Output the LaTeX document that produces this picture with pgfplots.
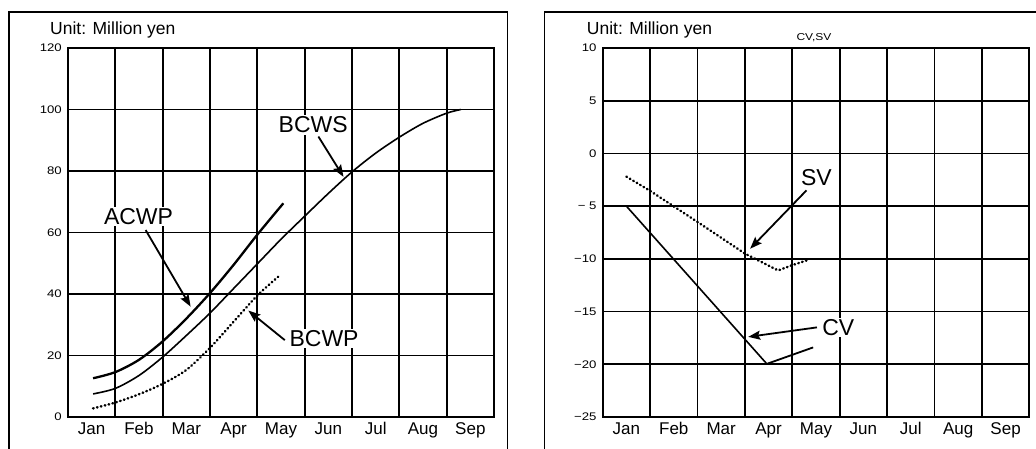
\documentclass[border=0pt]{standalone}
\usepackage{fontspec}
\setmainfont{Liberation Sans}
\newfontfamily\tickfont[FakeStretch=1.2]{Liberation Sans}
\usepackage{pgfplots}
\pgfplotsset{compat=1.18}
\usetikzlibrary{arrows.meta}

\pgfplotsset{
  panel/.style={
    scale only axis, width=426pt, height=369pt, anchor=south west,
    xmin=0, xmax=9, xtick={0,...,9}, x tick label as interval,
    xticklabels={Jan,Feb,Mar,Apr,May,Jun,Jul,Aug,Sep},
    major tick length=0pt,
    grid=major, major grid style={black, line width=1.8pt},
    axis line style={line width=2pt},
    xticklabel style={font=\fontsize{17}{17}\selectfont, inner sep=0pt, text height=12.3pt, text depth=3.6pt, anchor=north},
    xticklabel shift=5.5pt,
    yticklabel style={font=\tickfont\fontsize{11}{11}\selectfont, inner sep=0pt, anchor=east},
    yticklabel shift=6pt,
    clip=false,
  },
}
\tikzset{
  lbl/.style={fill=white, inner sep=1.5pt, font=\fontsize{23}{23}\selectfont},
  arr/.style={line width=1.8pt, -{Stealth[length=12pt,width=9pt,inset=2pt]}},
  dotline/.style={line width=2.5pt, line cap=round, dash pattern=on 0.6pt off 3.4pt},
}

\begin{document}
\begin{tikzpicture}
\path[use as bounding box] (0pt,0pt) rectangle (1036pt,449pt);
\draw[line width=1.5pt] (9pt,0pt) -- (9pt,437pt) -- (507.5pt,437pt) -- (507.5pt,0pt);
\draw[line width=1.5pt] (544.5pt,0pt) -- (544.5pt,437pt) -- (1036pt,437pt);
\node[anchor=base west, inner sep=0pt, font=\fontsize{17.5}{17.5}\selectfont] at (50pt,414pt) {Unit: Million yen};
\node[anchor=base west, inner sep=0pt, font=\fontsize{17.5}{17.5}\selectfont] at (586.7pt,414pt) {Unit: Million yen};
\node[anchor=base, inner sep=0pt, font=\tickfont\fontsize{10}{10}\selectfont] at (814pt,408.3pt) {CV,SV};

\begin{axis}[panel, at={(68pt,32pt)},
  ymin=0, ymax=120, ytick={0,20,40,60,80,100,120},
  yticklabels={0,20,40,60,80,100,120}]
\addplot[line width=2.3pt, smooth] coordinates {
 (0.53,12.6) (1,14.6) (1.5,18.6) (2,24.6) (2.5,32) (3,40.3) (3.5,49.5) (4,59.3) (4.55,69.5)};
\addplot[line width=1.6pt, smooth] coordinates {
 (0.53,7.5) (1,9.3) (1.5,13.5) (2,19.5) (2.5,26.5) (3,33.8) (3.5,41.8) (4,49.8) (4.5,57.8) (5,65.3) (5.5,72.7) (6,79.7) (6.5,85.8) (7,91) (7.5,95.5) (8,98.8) (8.3,100)};
\addplot[dotline, smooth] coordinates {
 (0.53,2.8) (1,4.7) (1.5,7.4) (2,10.8) (2.5,15.3) (3,22.5) (3.5,31) (4,39.5) (4.44,45.6)};
\node[lbl] at (axis cs:1.49,65.1) {ACWP};
\node[lbl] at (axis cs:5.18,95) {BCWS};
\node[lbl] at (axis cs:5.41,25.6) {BCWP};
\draw[arr] (axis cs:1.64,60.8) -- (axis cs:2.59,35.9);
\draw[arr] (axis cs:5.29,91.2) -- (axis cs:5.82,78.1);
\draw[arr] (axis cs:4.58,25) -- (axis cs:3.81,34.6);
\end{axis}

\begin{axis}[panel, at={(602.7pt,32pt)}, width=426.6pt,
  ymin=-25, ymax=10, ytick={-25,-20,-15,-10,-5,0,5,10},
  yticklabels={−25,−20,−15,−10,− 5,0,5,10}]
\addplot[dotline] coordinates {
 (0.5,-2.2) (1,-3.55) (2,-6.5) (3,-9.5) (3.35,-10.3) (3.7,-11.1) (4.0,-10.6) (4.3,-10.15)};
\addplot[line width=1.6pt] coordinates {(0.5,-5) (3.47,-20)};
\node[lbl] at (axis cs:4.51,-2.25) {SV};
\node[lbl] at (axis cs:4.97,-16.48) {CV};
\draw[arr] (axis cs:4.3,-3.5) -- (axis cs:3.11,-9.04);
\draw[arr] (axis cs:4.52,-16.5) -- (axis cs:3.07,-17.4);
\draw[line width=1.8pt] (axis cs:4.44,-18.4) -- (axis cs:3.47,-19.95);
\end{axis}
\end{tikzpicture}
\end{document}
